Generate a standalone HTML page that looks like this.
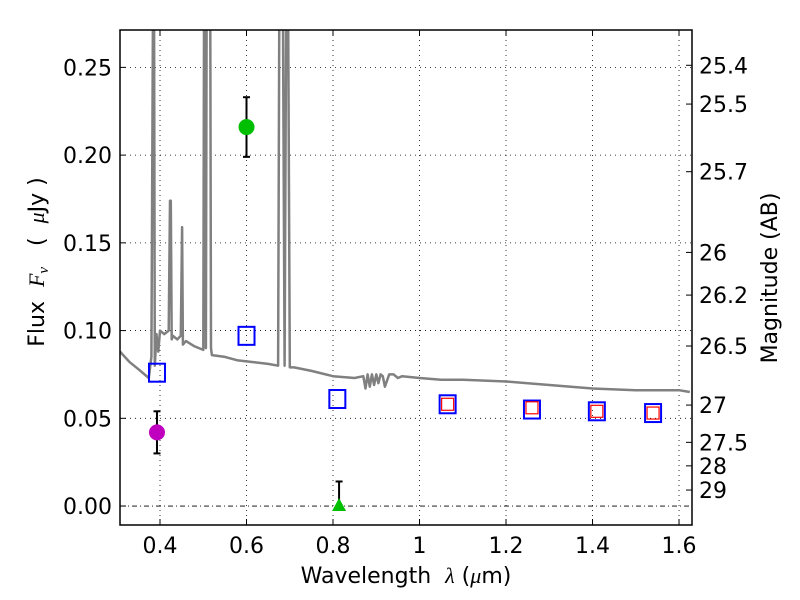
<!DOCTYPE html>
<html><head><meta charset="utf-8"><style>
body{margin:0;background:#fff;}
svg{display:block;font-family:"DejaVu Sans","Liberation Sans",sans-serif;}
text{white-space:pre;}
</style></head><body>
<svg id="chart" width="800" height="600"></svg>
<script>
const xTicks=[0.4,0.6,0.8,1.0,1.2,1.4,1.6];
const xTickLabels=["0.4","0.6","0.8","1","1.2","1.4","1.6"];
const yTicks=[0,0.05,0.10,0.15,0.20,0.25];
const yTickLabels=["0.00","0.05","0.10","0.15","0.20","0.25"];
const magTicks=[25.4,25.5,25.7,26,26.2,26.5,27,27.5,28,29];
const magTickLabels=["25.4","25.5","25.7","26","26.2","26.5","27","27.5","28","29"];
const specWave=[0.3075,0.33,0.35,0.374,0.38,0.384,0.386,0.388,0.392,0.396,0.40,0.41,0.42,0.423,0.425,0.427,0.43,0.44,0.448,0.451,0.453,0.46,0.48,0.50,0.502,0.504,0.506,0.508,0.51,0.512,0.514,0.516,0.518,0.52,0.55,0.58,0.618,0.65,0.673,0.676,0.68,0.684,0.688,0.692,0.696,0.70,0.71,0.75,0.80,0.85,0.87,0.875,0.88,0.885,0.89,0.895,0.90,0.905,0.91,0.915,0.92,0.93,0.94,0.95,0.96,1.0,1.05,1.1,1.2,1.3,1.4,1.5,1.6,1.625];
const specFlux=[0.088,0.082,0.078,0.073,0.085,0.3,0.3,0.08,0.098,0.088,0.1,0.098,0.1,0.174,0.174,0.095,0.097,0.095,0.097,0.159,0.092,0.094,0.091,0.089,0.3,0.3,0.09,0.3,0.3,0.3,0.3,0.3,0.09,0.086,0.085,0.083,0.082,0.081,0.08,0.3,0.3,0.3,0.08,0.3,0.3,0.079,0.079,0.077,0.074,0.073,0.074,0.067,0.075,0.068,0.075,0.069,0.075,0.070,0.075,0.074,0.068,0.075,0.075,0.073,0.074,0.073,0.072,0.072,0.071,0.069,0.067,0.066,0.066,0.065];
const photWave=[0.393,0.600,0.810,1.065,1.26,1.41,1.54];
const photFlux=[0.076,0.097,0.061,0.058,0.055,0.054,0.053];
const modelWave=[1.065,1.26,1.41,1.54];
const modelFlux=[0.058,0.056,0.054,0.053];
const obsWave=[0.393,0.600];
const obsFlux=[0.042,0.216];
const obsErr=[0.012,0.017];
const obsColor=["#bf00bf","#00bf00"];
const limWave=[0.814];
const limFlux=[0.0];
const limErr=[0.014];

const L=120,R=692,T=30,B=525;
const X0=0.3075,X1=1.630,Y0=-0.0108,Y1=0.2713;
const sx=v=>L+(v-X0)/(X1-X0)*(R-L);
const sy=v=>B-(v-Y0)/(Y1-Y0)*(B-T);
const magToFlux=m=>Math.pow(10,(23.9-m)/2.5);
const NS="http://www.w3.org/2000/svg";
const svg=document.getElementById('chart');
function mk(tag,attrs,parent){const e=document.createElementNS(NS,tag);for(const k in attrs)e.setAttribute(k,attrs[k]);(parent||svg).appendChild(e);return e;}
const defs=mk('defs',{});
const cp=mk('clipPath',{id:'clip'},defs);mk('rect',{x:L,y:T,width:R-L,height:B-T},cp);

xTicks.forEach(v=>{const g=mk('line',{x1:sx(v),x2:sx(v),y1:T,y2:B,stroke:'#000','stroke-width':0.8,'stroke-dasharray':'1,4'});

});
yTicks.forEach(v=>{const g=mk('line',{x1:L,x2:R,y1:sy(v),y2:sy(v),stroke:'#000','stroke-width':0.8,'stroke-dasharray':v===0?'5,3,1,3':'1,4'});

});

const pts=specWave.map((w,i)=>sx(w).toFixed(1)+','+sy(specFlux[i]).toFixed(1)).join(' ');
const sp=mk('polyline',{points:pts,fill:'none',stroke:'#808080','stroke-width':2.5,'clip-path':'url(#clip)','stroke-linejoin':'round'});



photWave.forEach((w,i)=>{const r=mk('rect',{x:sx(w)-8,y:sy(photFlux[i])-9,width:16,height:18,fill:'none',stroke:'#0000ff','stroke-width':2});

});
modelWave.forEach((w,i)=>{const r=mk('rect',{x:sx(w)-6,y:sy(modelFlux[i])-6,width:12,height:12,fill:'none',stroke:'#ff0000','stroke-width':1.2});

});

obsWave.forEach((w,i)=>{
const x=sx(w),y1=sy(obsFlux[i]+obsErr[i]),y2=sy(obsFlux[i]-obsErr[i]);
const g=mk('g',{});


mk('line',{x1:x,x2:x,y1:y1,y2:y2,stroke:'#000','stroke-width':2},g);
mk('line',{x1:x-3.5,x2:x+3.5,y1:y1,y2:y1,stroke:'#000','stroke-width':2},g);
mk('line',{x1:x-3.5,x2:x+3.5,y1:y2,y2:y2,stroke:'#000','stroke-width':2},g);
mk('circle',{cx:x,cy:sy(obsFlux[i]),r:8,fill:obsColor[i]},g);});
limWave.forEach((w,i)=>{
const x=sx(w),y=sy(limFlux[i]),yt=sy(limFlux[i]+limErr[i]);
const g=mk('g',{});


mk('line',{x1:x,x2:x,y1:yt,y2:y,stroke:'#000','stroke-width':2},g);
mk('line',{x1:x-3.5,x2:x+3.5,y1:yt,y2:yt,stroke:'#000','stroke-width':2},g);
mk('polygon',{points:`${x},${y-8} ${x-7},${y+5} ${x+7},${y+5}`,fill:'#00bf00'},g);});

const fr=mk('rect',{x:L,y:T,width:R-L,height:B-T,fill:'none',stroke:'#000','stroke-width':1.5});



xTicks.forEach((v,i)=>{const x=sx(v);
mk('line',{x1:x,x2:x,y1:B,y2:B-6,stroke:'#000'});mk('line',{x1:x,x2:x,y1:T,y2:T+6,stroke:'#000'});
const t=mk('text',{x:x,y:553,'font-size':22,'text-anchor':'middle'});t.textContent=xTickLabels[i];

});
yTicks.forEach((v,i)=>{const y=sy(v);
mk('line',{x1:L,x2:L+6,y1:y,y2:y,stroke:'#000'});
const t=mk('text',{x:112,y:y+8,'font-size':22,'text-anchor':'end'});t.textContent=yTickLabels[i];

});
magTicks.forEach((m,i)=>{const y=sy(magToFlux(m));
mk('line',{x1:R,x2:R-6,y1:y,y2:y,stroke:'#000'});
const t=mk('text',{x:699,y:y+8,'font-size':22});t.textContent=magTickLabels[i];

});

const xl=mk('text',{x:406,y:583,'font-size':22,'text-anchor':'middle'});
xl.innerHTML='Wavelength  <tspan font-family="Liberation Serif,serif" font-style="italic">λ</tspan> (<tspan font-family="Liberation Serif,serif" font-style="italic">μ</tspan>m)';


const yl=mk('text',{x:0,y:0,'font-size':22,'text-anchor':'middle',transform:'translate(44,262) rotate(-90)'});
yl.innerHTML='Flux  <tspan font-family="Liberation Serif,serif" font-style="italic">F<tspan font-size="15" dy="4">ν</tspan></tspan><tspan dy="-4">   (  </tspan><tspan font-family="Liberation Serif,serif" font-style="italic">μ</tspan>Jy )';


const rl=mk('text',{x:0,y:0,'font-size':22,'text-anchor':'middle',transform:'translate(777,278) rotate(-90)'});
rl.textContent='Magnitude (AB)';


</script>
</body></html>
